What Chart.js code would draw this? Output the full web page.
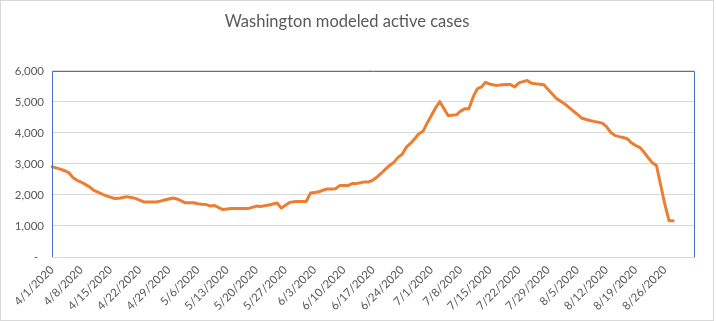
<!DOCTYPE html>
<html>
<head>
<meta charset="utf-8">
<script src="https://cdn.jsdelivr.net/npm/chart.js@4/dist/chart.umd.min.js"></script>
<style>
  html, body { margin: 0; padding: 0; background: #fff; }
  #wrap { width: 716px; height: 321px; }
</style>
</head>
<body>
<div id="wrap"><canvas id="lineChart" width="716" height="321"></canvas></div>
<script>
// daily dates 4/1/2020 .. 9/2/2020 (axis runs a bit past the data)
var startDate = new Date(2020, 3, 1);
var dayCount = 155;
var dateLabels = [];
for (var i = 0; i < dayCount; i++) {
    var d = new Date(startDate.getTime() + i * 86400000);
    dateLabels.push((d.getMonth() + 1) + '/' + d.getDate() + '/' + d.getFullYear());
}

// modeled active cases (4/1 .. 8/28)
var activeCases = [
    2910, 2870, 2830, 2780, 2720, 2560, 2470, 2410, 2340, 2260,
    2150, 2090, 2030, 1970, 1930, 1885, 1890, 1920, 1945, 1920,
    1890, 1830, 1775, 1770, 1770, 1770, 1800, 1835, 1870, 1900,
    1870, 1810, 1745, 1750, 1750, 1715, 1700, 1690, 1640, 1660,
    1590, 1530, 1545, 1560, 1560, 1560, 1560, 1560, 1600, 1640,
    1630, 1650, 1675, 1710, 1740, 1575, 1670, 1760, 1780, 1790,
    1790, 1790, 2060, 2080, 2100, 2150, 2190, 2190, 2200, 2300,
    2300, 2300, 2365, 2365, 2390, 2420, 2420, 2480, 2580, 2700,
    2830, 2950, 3050, 3210, 3310, 3540, 3660, 3810, 3970, 4050,
    4320, 4560, 4800, 5010, 4790, 4560, 4570, 4580, 4700, 4775,
    4775, 5150, 5420, 5480, 5630, 5570, 5545, 5530, 5550, 5555,
    5555, 5480, 5610, 5650, 5685, 5600, 5580, 5570, 5550, 5400,
    5250, 5110, 5020, 4930, 4820, 4710, 4600, 4480, 4440, 4400,
    4370, 4345, 4315, 4200, 4020, 3920, 3880, 3850, 3810, 3680,
    3590, 3530, 3380, 3200, 3040, 2950, 2320, 1700, 1170, 1170
];

var labelEvery = 7;
var yTicks = [0, 1000, 2000, 3000, 4000, 5000, 6000];

var textColor = '#595959';
var fontFamily = 'Lato, "Open Sans", sans-serif';

// white background, outer frame and blue plot border
var framePlugin = {
    id: 'frame',
    beforeDraw: function (chart) {
        var c = chart.ctx;
        c.save();
        c.fillStyle = '#fff';
        c.fillRect(0, 0, chart.width, chart.height);
        c.strokeStyle = '#d9d9d9';
        c.lineWidth = 1;
        c.strokeRect(0.5, 0.5, chart.width - 3, chart.height - 1);
        c.restore();
    },
    afterDatasetsDraw: function (chart) {
        var a = chart.chartArea, c = chart.ctx;
        c.save();
        c.strokeStyle = '#4472C4';
        c.lineWidth = 1;
        c.beginPath();
        c.moveTo(Math.round(a.left) + 0.5, Math.round(a.bottom));
        c.lineTo(Math.round(a.left) + 0.5, Math.round(a.top) + 0.5);
        c.lineTo(Math.round(a.right) + 0.5, Math.round(a.top) + 0.5);
        c.lineTo(Math.round(a.right) + 0.5, Math.round(a.bottom));
        c.stroke();
        c.restore();
    }
};

var ctx = document.getElementById('lineChart').getContext('2d');
var myLineChart = new Chart(ctx, {
    type: 'line',
    data: {
        labels: dateLabels,
        datasets: [{
            label: 'Active cases',
            data: activeCases,
            borderColor: '#ED7D31',
            borderWidth: 3,
            pointRadius: 0,
            tension: 0,
            fill: false,
            borderJoinStyle: 'round',
            borderCapStyle: 'round'
        }]
    },
    options: {
        responsive: false,
        animation: false,
        layout: { padding: { left: 0, right: 22, top: 0, bottom: 4 } },
        plugins: {
            legend: { display: false },
            tooltip: { enabled: false },
            title: {
                display: true,
                text: 'Washington modeled active cases',
                color: textColor,
                font: { family: fontFamily, size: 16.5, weight: 'normal' },
                padding: { top: 12, bottom: 39 }
            }
        },
        scales: {
            x: {
                grid: { display: false, drawTicks: false },
                border: { color: '#d9d9d9' },
                ticks: {
                    autoSkip: false,
                    maxRotation: 45,
                    minRotation: 45,
                    padding: 6,
                    color: textColor,
                    font: { family: fontFamily, size: 11.5 },
                    callback: function (v, i) {
                        return (i % labelEvery === 0 && i < dateLabels.length - 1) ? dateLabels[i] : '';
                    }
                },
                afterFit: function (s) { s.height = 60; }
            },
            y: {
                min: yTicks[0],
                max: yTicks[yTicks.length - 1],
                afterBuildTicks: function (s) {
                    s.ticks = yTicks.map(function (v) { return { value: v }; });
                },
                grid: { color: '#d9d9d9', drawTicks: false },
                border: { display: false },
                ticks: {
                    padding: 8,
                    color: textColor,
                    font: { family: fontFamily, size: 11.5 },
                    callback: function (v) {
                        return v === 0 ? '-  ' : v.toLocaleString('en-US');
                    }
                },
                afterFit: function (s) { s.width = 52; }
            }
        }
    },
    plugins: [framePlugin]
});
</script>
</body>
</html>
